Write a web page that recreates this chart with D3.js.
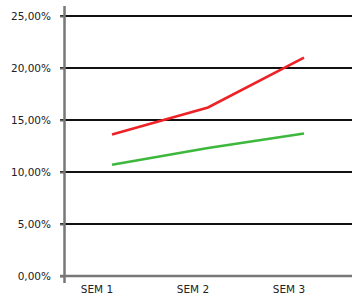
<!DOCTYPE html>
<html>
<head>
<meta charset="utf-8">
<script src="https://cdn.jsdelivr.net/npm/d3@7"></script>
<style>
  body { margin: 0; background: #fff; }
  svg { display: block; }
  text { font-family: "DejaVu Sans", sans-serif; font-size: 10.5px; fill: #222; }
</style>
</head>
<body>
<svg id="chart"></svg>
<script>
var categories = ["SEM 1", "SEM 2", "SEM 3"];
var serieRouge = [13.6, 16.2, 21.0];
var serieVerte = [10.7, 12.3, 13.7];
var yTicks = [0, 5, 10, 15, 20, 25];

var width = 352, height = 298;
var margin = ({top: 16, right: 0, bottom: 22, left: 64});

var svg = d3.select("svg#chart")
    .attr("width", width)
    .attr("height", height)
    .attr("viewBox", [0, 0, width, height]);

var y = d3.scaleLinear()
    .domain([0, 25])
    .range([height - margin.bottom, margin.top]);

var x = d3.scalePoint()
    .domain(categories)
    .range([112, 304]);

var fmt = v => d3.format(".2f")(v).replace(".", ",") + "%";

// grille horizontale
svg.append("g")
    .selectAll("line")
    .data(yTicks.filter(d => d > 0))
    .join("line")
    .attr("x1", margin.left - 4)
    .attr("x2", width)
    .attr("y1", d => y(d))
    .attr("y2", d => y(d))
    .attr("stroke", "#111")
    .attr("stroke-width", 2);

// axe Y
var yAxis = g => g
    .attr("transform", `translate(${margin.left},0)`)
    .call(d3.axisLeft(y).tickValues(yTicks).tickFormat(fmt).tickSize(4).tickPadding(9))
    .call(g => g.select(".domain").remove())
    .call(g => g.selectAll(".tick line").attr("stroke", "#666").attr("stroke-width", 2))
    .call(g => g.selectAll(".tick text").attr("font-family", null).attr("font-size", null));

svg.append("g").call(yAxis);

svg.append("line")
    .attr("x1", margin.left + 0.5).attr("x2", margin.left + 0.5)
    .attr("y1", 6).attr("y2", height - margin.bottom + 7)
    .attr("stroke", "#777").attr("stroke-width", 2.5);

// axe X
svg.append("line")
    .attr("x1", margin.left - 4).attr("x2", width)
    .attr("y1", y(0)).attr("y2", y(0))
    .attr("stroke", "#777").attr("stroke-width", 2.5);

svg.append("g")
    .selectAll("text")
    .data(categories)
    .join("text")
    .attr("x", d => x(d) - 15)
    .attr("y", y(0) + 17)
    .attr("text-anchor", "middle")
    .text(d => d);

var line = d3.line()
    .x((d, i) => x(categories[i]))
    .y(d => y(d));

svg.append("path")
    .datum(serieVerte)
    .attr("fill", "none")
    .attr("stroke", "#3db83d")
    .attr("stroke-width", 2.6)
    .attr("d", line);

svg.append("path")
    .datum(serieRouge)
    .attr("fill", "none")
    .attr("stroke", "#ec2227")
    .attr("stroke-width", 2.6)
    .attr("d", line);
</script>
</body>
</html>
